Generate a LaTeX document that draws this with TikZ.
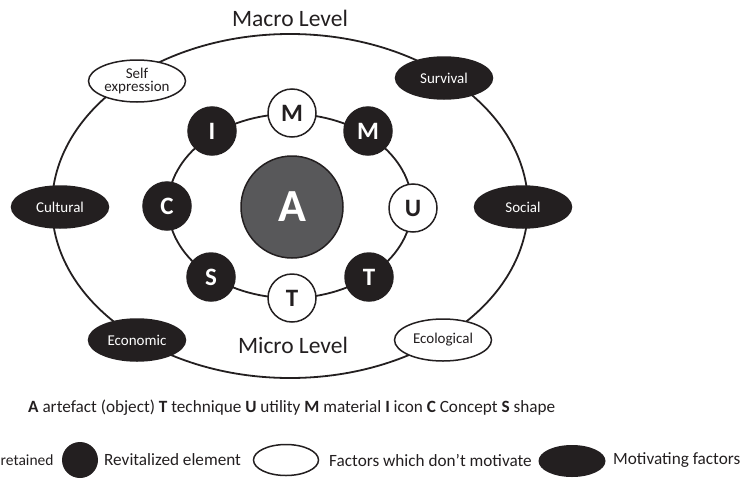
\documentclass[tikz,border=0pt]{standalone}
\usepackage{fontspec}
\setmainfont{Carlito}
\usetikzlibrary{shapes.geometric}
\definecolor{ink}{HTML}{231F20}
\definecolor{core}{HTML}{58585A}

\begin{document}
\begin{tikzpicture}[x=1pt,y=-1pt,
  ring/.style={draw=ink,line width=1.8pt},
  keepcirc/.style={circle,draw=ink,line width=1.5pt,fill=white,minimum size=48pt,inner sep=0pt,
    font=\fontsize{25}{25}\selectfont\bfseries,text=ink},
  revcirc/.style={keepcirc,fill=ink,text=white},
  idle/.style={ellipse,draw=ink,line width=1.5pt,fill=white,minimum width=97pt,minimum height=42pt,
    inner sep=0pt,font=\fontsize{15}{13.5}\selectfont,text=ink,align=center},
  motive/.style={idle,fill=ink,text=white},
  lbl/.style={font=\fontsize{17.2}{17}\selectfont,text=ink,inner sep=0pt},
  title/.style={font=\fontsize{23.5}{23}\selectfont,text=ink,inner sep=0pt}
]
\useasboundingbox (0,0) rectangle (746,479);

% macro and micro rings
\draw[ring] (290,206) ellipse [x radius=238, y radius=172];
\draw[ring] (290,206) ellipse [x radius=122, y radius=92];

\node[title] (macro) at (290,18) {Macro Level};
\node[title] (micro) at (293,345) {Micro Level};

% core artefact
\node[circle,draw=ink,line width=1.5pt,fill=core,minimum size=102pt,inner sep=0pt,
  font=\fontsize{46}{46}\selectfont\bfseries,text=white] (art) at (292,207) {A};

% elements on the micro ring
\node[keepcirc] (mtop) at (292,113) {M};
\node[revcirc]  (mrev) at (368,131) {M};
\node[keepcirc] (util) at (413,208) {U};
\node[revcirc]  (trev) at (369,277) {T};
\node[keepcirc] (tbot) at (292,298) {T};
\node[revcirc]  (shp)  at (211,277) {S};
\node[revcirc]  (cpt)  at (167,206) {C};
\node[revcirc]  (icn)  at (212,131) {I};

% factors on the macro ring
\node[idle]   (self) at (137,81)  {Self\\expression};
\node[motive] (surv) at (444,78)  {Survival};
\node[motive] (cult) at (60,207)  {Cultural};
\node[motive] (soc)  at (523,207) {Social};
\node[motive] (econ) at (137,340) {Economic};
\node[idle]   (eco)  at (443,340) {Ecological};

% key
\node[lbl,anchor=west] (key) at (28,408)
  {\textbf{A} artefact (object) \textbf{T} technique \textbf{U} utility \textbf{M} material \textbf{I} icon \textbf{C} Concept \textbf{S} shape};

\node[lbl,anchor=west,font=\fontsize{15.5}{16}\selectfont] (kret) at (0.5,460) {retained};
\node[circle,fill=ink,minimum size=36pt,inner sep=0pt] (kdot) at (80,460) {};
\node[lbl,anchor=west] (krev) at (104,460) {Revitalized element};
\node[ellipse,draw=ink,line width=1.5pt,minimum width=65pt,minimum height=31pt,inner sep=0pt] (kidle) at (286,460) {};
\node[lbl,anchor=west] (kno) at (329,460) {Factors which don’t motivate};
\node[ellipse,fill=ink,minimum width=67pt,minimum height=32pt,inner sep=0pt] (kmot) at (572,461) {};
\node[lbl,anchor=west] (kyes) at (613,460) {Motivating factors};
\end{tikzpicture}
\end{document}
